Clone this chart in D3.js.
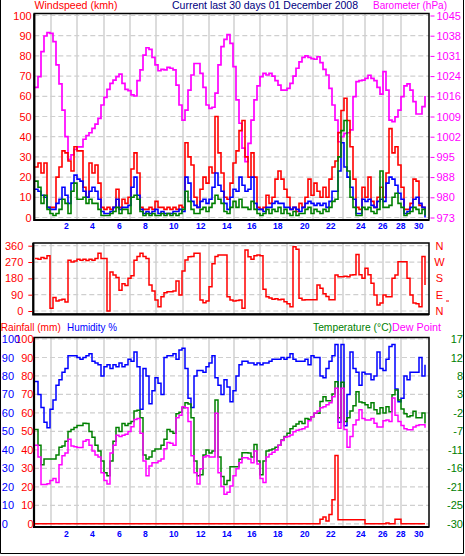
<!DOCTYPE html>
<html><head><meta charset="utf-8">
<script src="https://cdn.jsdelivr.net/npm/d3@7"></script>
<style>body{margin:0;background:#fff}svg{display:block}text{font-family:"Liberation Sans",Arial,sans-serif}</style>
</head><body><svg id="c" width="465" height="556"></svg>
<script>
// ---------- data (one sample per record, 131 records over 30 days) ----------
const baro=[1019.4,1023.2,1032.1,1037.7,1038.9,1038.6,1035.7,1027.4,1020.6,1011.3,
1001.8,993.7,995.3,997.3,998.2,998.2,1000.9,1002.2,1003.2,1004.8,
1006.3,1008.3,1013.1,1015.8,1018.7,1020.8,1022.0,1023.2,1024.1,1020.8,
1018.7,1018.2,1016.7,1016.3,1021.8,1025.6,1030.9,1033.5,1032.9,1030.1,
1027.4,1025.3,1025.8,1025.6,1026.5,1026.2,1025.6,1020.2,1013.1,1007.7,
1011.3,1018.4,1023.8,1027.9,1027.9,1024.4,1019.4,1013.1,1011.9,1012.3,
1017.3,1027.4,1033.9,1036.5,1038.2,1035.1,1026.8,1014.9,1006.6,997.7,
992.9,999.4,1007.7,1014.9,1019.9,1023.2,1024.4,1023.8,1024.4,1023.4,
1021.8,1020.2,1018.4,1018.4,1019.0,1020.8,1023.4,1026.2,1028.5,1030.1,
1030.6,1030.1,1029.6,1029.4,1030.3,1028.2,1025.8,1023.8,1019.0,1013.1,
1007.7,1000.0,1001.8,1003.0,1003.2,1004.2,1016.1,1021.4,1021.8,1022.0,
1022.6,1023.7,1022.6,1021.8,1019.4,1017.0,1025.0,1018.4,1007.7,1007.2,
1008.9,1011.3,1016.1,1019.9,1020.6,1018.4,1014.3,1009.9,1009.9,1012.5,
1016.3];
const windGust=[25,27,22,27,5,5,5,20,25,33,
32,28,23,35,33,33,15,10,27,22,
26,17,5,4,5,4,5,14,5,9,
7,10,24,32,22,5,4,4,5,4,
8,5,5,4,5,4,5,4,6,5,
37,30,26,10,5,14,20,17,25,22,
50,32,22,10,9,17,27,33,43,48,
30,20,32,20,5,4,5,11,7,10,
19,23,19,14,10,4,5,3,7,5,
10,19,11,17,13,10,15,10,19,25,
28,42,53,59,48,35,19,5,4,15,
10,20,8,5,10,15,10,22,44,32,
35,26,15,4,4,7,19,18,6,5,
4];
const windAvg=[14,13,11,10,5,4,4,7,9,15,
11,7,17,21,19,18,13,10,13,15,
13,9,3,2,2,3,5,9,4,5,
5,6,15,20,11,4,2,3,2,3,
4,2,3,2,2,2,3,3,4,3,
20,17,8,6,5,8,9,7,9,15,
22,16,13,7,4,10,14,13,20,16,
13,14,20,7,4,4,3,5,5,7,
8,7,7,5,5,4,5,4,3,5,
7,8,7,6,7,6,7,5,8,13,
13,23,37,25,20,15,9,2,2,9,
8,9,6,5,8,9,8,17,20,19,
16,12,9,2,3,5,9,10,7,5,
0];
const windSpeed=[18,15,7,11,4,2,1,2,4,9,
7,2,13,17,9,9,10,7,9,7,
7,4,1,1,1,2,3,5,2,4,
4,2,10,11,9,3,1,2,1,2,
1,1,2,1,2,1,2,1,2,4,
13,8,4,2,2,4,5,3,5,7,
11,9,7,3,2,5,8,5,9,5,
5,4,8,4,2,1,2,4,2,4,
3,5,2,4,2,1,3,1,2,2,
4,5,2,4,3,2,4,3,5,8,
9,30,43,48,23,10,5,1,1,5,
4,5,3,2,4,23,5,5,6,10,
12,7,5,1,2,3,5,4,2,4,
1];
const windDir=[290,285,295,290,305,15,75,55,60,65,
50,280,270,275,285,280,285,278,285,280,
290,318,290,290,0,215,198,185,115,150,
140,180,195,280,300,318,300,290,143,110,
60,24,79,100,106,106,110,165,88,220,
281,299,300,318,318,60,45,55,134,260,
300,309,309,309,79,60,55,58,60,15,
336,299,285,305,309,305,120,79,72,65,
68,62,65,51,40,24,354,340,70,60,
62,62,62,62,143,125,95,80,62,62,
198,189,189,192,189,198,200,312,200,180,
235,200,153,88,33,44,88,79,79,180,
198,272,272,272,180,88,44,40,24,300,
143];
const humidity=[77,70,63,55,52,62,67,75,78,82,
84,91,91,91,90,89,90,91,92,88,
87,86,80,85,86,84,86,85,87,85,
86,89,88,93,85,62,84,80,65,72,
79,76,70,90,91,91,92,89,94,95,
84,68,63,80,83,83,82,85,87,91,
79,75,70,78,74,66,72,80,86,88,
88,87,87,86,87,86,87,87,88,89,
89,89,90,89,90,92,89,88,88,88,
89,86,91,90,90,80,79,84,88,91,
97,55,97,53,70,93,84,82,75,82,
81,81,78,80,93,84,83,89,96,97,
73,66,68,80,78,82,82,82,90,80,
86];
const temperature=[-6,-10,-15,-13.5,-13.5,-13.5,-13.5,-12.5,-10.5,-10.2,
-9,-6.5,-6,-5.5,-5,-5,-4.4,-4.5,-6.5,-8,
-10,-11.5,-14,-17,-17.8,-14,-9,-5.5,-6.5,-4.5,
-5,-4.5,-4,-1.3,-1.1,-3,-12.5,-13.5,-13,-11.5,
-11,-11,-10,-8.5,-6,-6.5,-7,-2,-1.6,-0.5,
0.8,0.5,-3,-14,-17.8,-17.5,-12.5,-11.2,-12,-11.5,
1.5,-13,-18,-20,-19,-15.5,-15.5,-15.5,-13.6,-11.9,
-11.9,-12,-13,-9.8,-14,-17.5,-14,-11.5,-11.2,-11,
-10.5,-10,-8.7,-7.8,-7,-5.8,-5.2,-4.6,-4,-4.5,
-3.2,-3.4,-2.8,-1.9,-1.9,1.1,2.3,1.3,1.3,3,
6.1,-3,6,-4,-3,-1.3,0,3.6,1,0.8,
0.3,-0.5,0.8,-1,-2,-0.5,-1.8,-0.2,-1.5,2.8,
4,1.5,-0.8,-2,-2.8,-2.5,-1.4,-3,-3,-1.8,
-4.5];
const dewPoint=[-10,-13,-20,-20,-19.8,-19,-18.5,-19.5,-15,-12.7,
-12,-8.5,-10.2,-10.4,-10.6,-10.6,-9,-8.6,-10,-11.5,
-12.5,-13,-17,-19,-19.9,-12,-10,-7.5,-7.8,-7.5,
-7.2,-6.5,-5.3,-3.5,-3.2,-7,-14,-17.8,-15.3,-14.5,
-14.5,-14,-13.5,-10.9,-9.3,-9.5,-10,-3,-2.4,-0.2,
-0.5,-4,-12.7,-17,-19.9,-16,-13,-12.7,-13,-13,
-1.9,-17,-20.5,-22.5,-22,-20.4,-17.8,-16,-14.5,-13.2,
-13.2,-13.5,-14.5,-11.5,-14.8,-18.5,-19.5,-13,-12.3,-11.8,
-11.2,-10,-8.8,-8,-7.8,-7.4,-6.6,-6.2,-6,-5.8,
-5.4,-3.8,-2.8,-1.8,-1.3,-0.5,-0.2,0.3,0.8,2.3,
4.5,-5.7,4.5,-6,-10.5,-7.8,-4.8,-3.6,-1,-3.2,
-3.6,-3.6,-3.2,-4.4,-5.4,-5.4,-3.8,-3.6,-4,2,
-2.4,-4,-5,-5.8,-6.1,-6.1,-5.4,-5,-4.8,-4.8,
-5.6];
const rainfall=[0,0,0,0,0,0,0,0,0,0,
0,0,0,0,0,0,0,0,0,0,
0,0,0,0,0,0,0,0,0,0,
0,0,0,0,0,0,0,0,0,0,
0,0,0,0,0,0,0,0,0,0,
0,0,0,0,0,0,0,0,0,0,
0,0,0,0,0,0,0,0,0,0,
0,0,0,0,0,0,0,0,0,0,
0,0,0,0,0,0,0,0,0,0,
0,0,0,0,0,2.5,3.7,1.5,5,13,
37,2.2,2.2,2.2,2.2,2.2,2.2,2.2,2.2,2.2,
0,0,0,0,0,0,0,0.5,0,0,
2.5,2.5,0,0,0,0,0,0,0,0,
0];
// record index at which each even day begins (vertical grid lines) and their labels
const dayLines=[5.33,14,23,31.67,40.33,49.33,58,66.33,75,84,92.67,102.67,110,116,122];
const dayLabels=['2','4','6','8','10','12','14','16','18','20','22','24','26','28','30'];
const windTicks=[0,10,20,30,40,50,60,70,80,90,100];
const baroTickVals=[973,980.2,987.4,994.6,1001.8,1009,1016.2,1023.4,1030.6,1037.8,1045];
const baroLabels=['973','980','988','995','1002','1009','1016','1024','1031','1038','1045'];
const dirTicks=[0,90,180,270,360];
const dirLetters=['N','E','S','W','N'];
const currentDirMark=55;
const humTicks=[0,10,20,30,40,50,60,70,80,90,100];
const tempTickVals=[-30,-25.3,-20.6,-15.9,-11.2,-6.5,-1.8,2.9,7.6,12.3,17];
const tempLabels=['-30','-25','-21','-16','-11','-7','-2','3','8','12','17'];

// ---------- drawing ----------
const svg=d3.select('#c');
const RED='#ff0000',BLUE='#0000ff',GREEN='#008000',MAG='#ff00ff',NAVY='#000080';
const FONT='"Liberation Sans",Arial,sans-serif';
const idx=d3.range(windGust.length);
const x=d3.scaleLinear().domain([0,idx.length-1]).range([35,425]);

const P1={t:13.5,b:220,l:34.3,r:429};
const P2={t:243,b:314.3,l:33.3,r:429};
const P3={t:337.5,b:527,l:34,r:429};

const yWind=d3.scaleLinear().domain([0,100]).range([217.5,15.5]);
const yBaro=d3.scaleLinear().domain([973,1045]).range([217.5,15.5]);
const yDir=d3.scaleLinear().domain([0,360]).range([311,245.7]);
const yHum=d3.scaleLinear().domain([0,100]).range([523.8,339]);
const yRain=d3.scaleLinear().domain([0,100]).range([523.8,339]);
const yTemp=d3.scaleLinear().domain([-30,17]).range([523.8,339]);

function grid(P,ys){
  const g=svg.append('g');
  g.selectAll('line.v').data(dayLines).join('line')
    .attr('x1',d=>x(d)).attr('x2',d=>x(d)).attr('y1',P.t).attr('y2',P.b)
    .attr('stroke','#dcdcdc').attr('stroke-width',2);
  g.selectAll('line.h').data(ys).join('line')
    .attr('x1',P.l).attr('x2',P.r).attr('y1',d=>d).attr('y2',d=>d)
    .attr('stroke','#cfcfcf').attr('stroke-width',1.2).attr('stroke-dasharray','5,3');
}
grid(P1,windTicks.map(yWind));
grid(P2,dirTicks.map(yDir));
grid(P3,humTicks.map(yHum));

function line(data,y,color,w){
  svg.append('path').datum(idx)
    .attr('d',d3.line().x(i=>x(i)).y(i=>y(data[i])).curve(d3.curveStepAfter))
    .attr('fill','none').attr('stroke',color).attr('stroke-width',w||1.5)
    .attr('stroke-linejoin','miter');
}
// top panel
line(baro,yBaro,MAG,1.7);
line(windGust,yWind,RED,1.6);
line(windAvg,yWind,BLUE,1.6);
line(windSpeed,yWind,GREEN,1.6);
// middle panel
line(windDir,yDir,RED,1.5);
// bottom panel
line(humidity,yHum,BLUE,1.5);
line(temperature,yTemp,GREEN,1.5);
line(dewPoint,yTemp,MAG,1.5);
line(rainfall,yRain,RED,1.5);

// frames
[P1,P2,P3].forEach(P=>{
  svg.append('rect').attr('x',P.l).attr('y',P.t).attr('width',P.r-P.l).attr('height',P.b-P.t)
    .attr('fill','none').attr('stroke','#000').attr('stroke-width',1.5);
  svg.append('path').attr('d',`M${P.l},${P.t}V${P.b}H${P.r}`)
    .attr('fill','none').attr('stroke','#000').attr('stroke-width',2.2);
});

function axis(gen,tx,color,size){
  const g=svg.append('g').attr('transform',`translate(${tx},0)`).call(gen);
  g.attr('font-family',FONT).attr('font-size',size||11);
  g.select('.domain').remove();
  g.selectAll('text').attr('fill',color);
  g.selectAll('line').attr('stroke',color);
  return g;
}
axis(d3.axisLeft(yWind).tickValues(windTicks).tickSize(0).tickPadding(2.6),P1.l,RED);
axis(d3.axisRight(yBaro).tickValues(baroTickVals).tickFormat((d,i)=>baroLabels[i]).tickSize(4).tickPadding(2),430.5,MAG);
axis(d3.axisLeft(yDir).tickValues(dirTicks).tickSize(4).tickPadding(5),P2.l-1,RED);
axis(d3.axisRight(yDir).tickValues(dirTicks).tickFormat((d,i)=>dirLetters[i]).tickSize(0).tickPadding(0),439.5,RED)
  .selectAll('text').attr('text-anchor','middle');
svg.append('line').attr('x1',446).attr('x2',449).attr('y1',yDir(currentDirMark)).attr('y2',yDir(currentDirMark))
  .attr('stroke',RED).attr('stroke-width',1);
axis(d3.axisLeft(yRain).tickValues(humTicks).tickSize(0).tickPadding(0),33.5,RED);
axis(d3.axisRight(yHum).tickValues(humTicks).tickSize(0).tickPadding(0),1.8,BLUE);
axis(d3.axisLeft(yTemp).tickValues(tempTickVals).tickFormat((d,i)=>tempLabels[i]).tickSize(0).tickPadding(0),463,GREEN);

// day labels
[229.3,536.7].forEach(base=>{
  svg.append('g').selectAll('text').data(dayLines).join('text')
    .attr('x',d=>x(d)+13).attr('y',base).text((d,i)=>dayLabels[i])
    .attr('fill',BLUE).attr('font-size',8.6).attr('font-weight','bold');
});

// titles
const titles=[
  ['Windspeed (kmh)',34.5,9.3,83,RED],
  ['Current last 30 days 01 December 2008',172,9.3,186,NAVY],
  ['Barometer (hPa)',373,9.3,74,MAG],
  ['Rainfall (mm)',0.8,331,60,RED],
  ['Humidity %',67,331,50,BLUE],
  ['Temperature (\u00B0C)',313,331,79,GREEN],
  ['Dew Point',392,331,49,MAG]
];
svg.append('g').selectAll('text').data(titles).join('text')
  .attr('x',d=>d[1]).attr('y',d=>d[2]).attr('textLength',d=>d[3]).attr('lengthAdjust','spacingAndGlyphs')
  .attr('fill',d=>d[4]).attr('font-size',11.5).text(d=>d[0]);

// outer border
svg.append('path').attr('d','M0.5,0V553.5H463.5V0').attr('fill','none').attr('stroke','#000').attr('stroke-width',1);
</script></body></html>
